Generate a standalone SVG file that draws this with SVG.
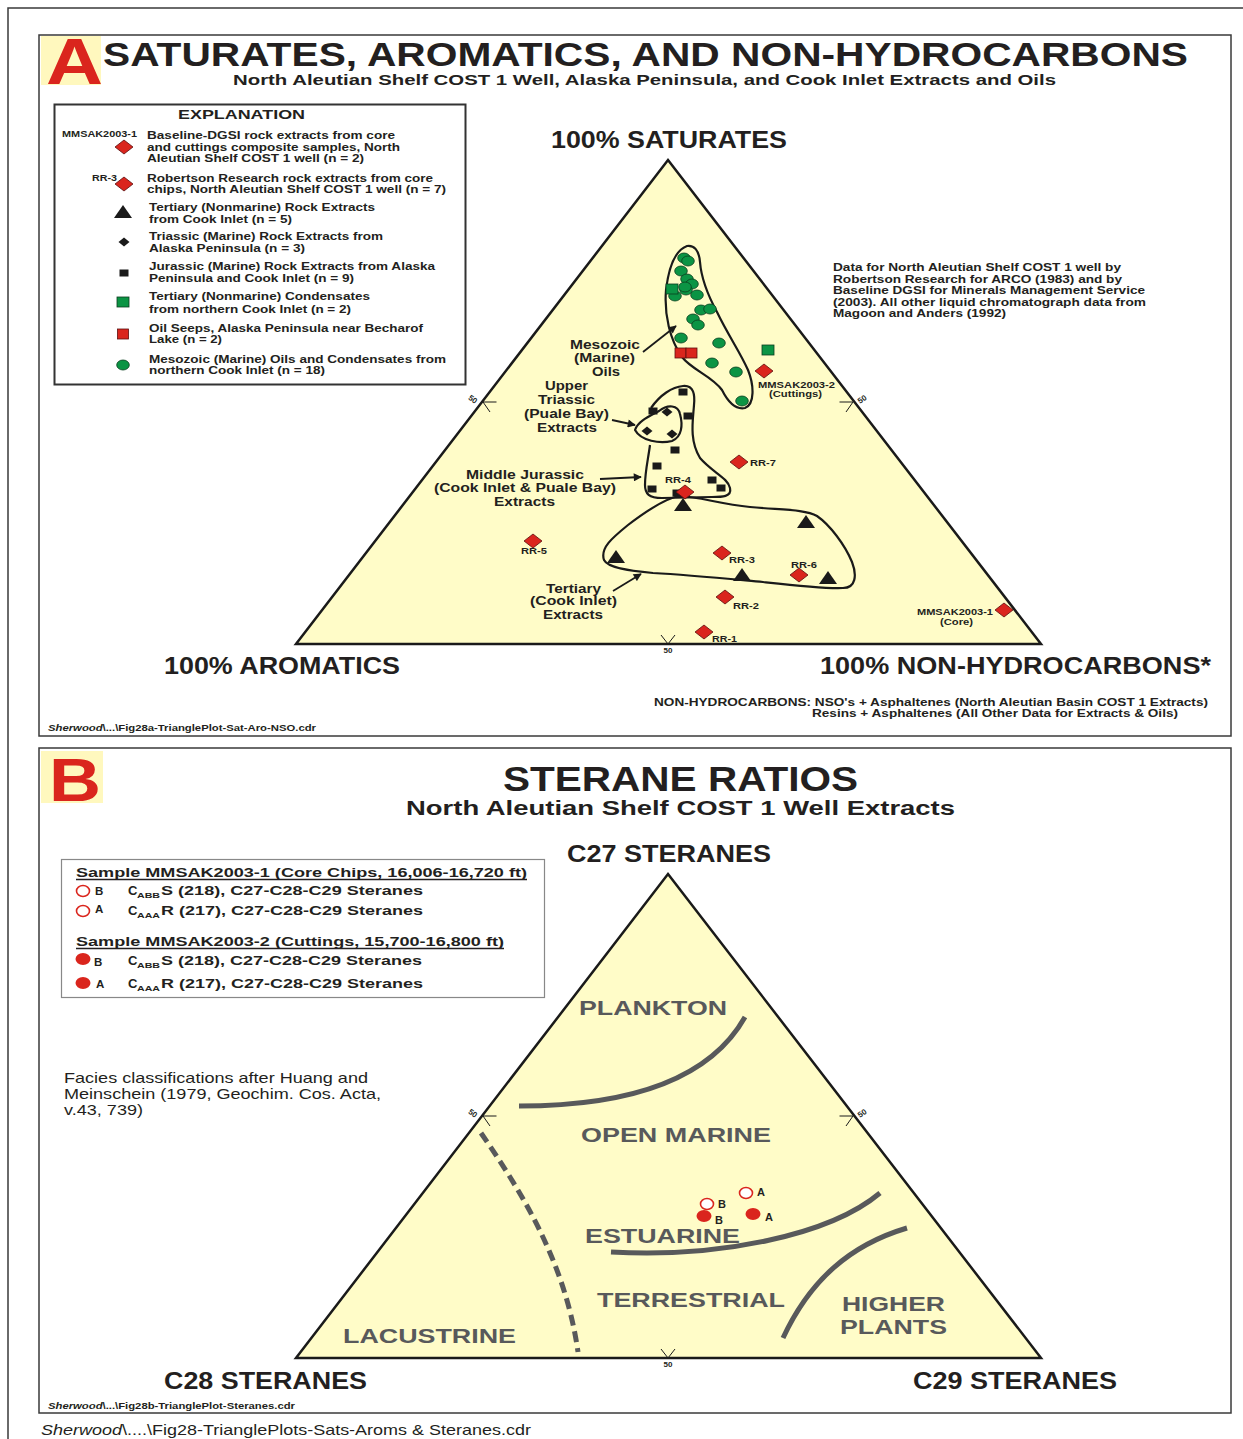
<svg xmlns="http://www.w3.org/2000/svg" width="1243" height="1439" viewBox="0 0 1243 1439">
<defs>
<style>
text{font-family:"Liberation Sans",Arial,Helvetica,sans-serif;font-weight:bold;fill:#231F20}
.panel{fill:#fff;stroke:#3a3a3a;stroke-width:1.5}
.tri{fill:#FFFCC8;stroke:#1a1a1a;stroke-width:2.5}
.tick{fill:none;stroke:#1a1a1a;stroke-width:1}
.outline{fill:none;stroke:#1a1a1a;stroke-width:2.2;stroke-linejoin:round}
.arrow{stroke:#1a1a1a;stroke-width:1.8;marker-end:url(#ah)}
.gcurve{fill:none;stroke:#58595B;stroke-width:5}
.facies{fill:#58595B;font-size:21px}
.lg{font-size:11px}
.sm{font-size:9px}
.lab{font-size:12.5px}
.big{font-size:23px}
.red{fill:#DA251D}
.sub{font-size:6.5px}
</style>
<marker id="ah" viewBox="0 0 10 10" refX="9" refY="5" markerWidth="9" markerHeight="8" markerUnits="userSpaceOnUse" orient="auto">
<path d="M0,0 L10,5 L0,10 Z" fill="#1a1a1a"/>
</marker>
<path id="dia" d="M0,-7 L9,0 L0,7 L-9,0Z" fill="#DA251D" stroke="#5C0F0F" stroke-width="0.8"/>
<path id="trm" d="M0,-7 L9,6 L-9,6Z" fill="#1a1a1a"/>
<rect id="bsq" x="-4.5" y="-3.5" width="9" height="7" fill="#1a1a1a"/>
<path id="bdia" d="M0,-4.5 L5.5,0 L0,4.5 L-5.5,0Z" fill="#1a1a1a"/>
<ellipse id="gc" rx="6.3" ry="5" fill="#0B9444" stroke="#0a3d1e" stroke-width="0.8"/>
<rect id="gsq" x="-6" y="-5" width="12" height="10" fill="#0B9444" stroke="#0a3d1e" stroke-width="0.8"/>
<rect id="rsq" x="-5.5" y="-5" width="11" height="10" fill="#DA251D" stroke="#5C0F0F" stroke-width="0.8"/>
<ellipse id="oc" rx="6.5" ry="5.5" fill="#fff" stroke="#DA251D" stroke-width="1.6"/>
<ellipse id="fc" rx="7.5" ry="6" fill="#DA251D"/>
</defs>

<rect width="1243" height="1439" fill="#fff"/>
<g id="frame">
<path d="M8,1439 L8,8 L1243,8" fill="none" stroke="#3a3a3a" stroke-width="1.5"/>
</g>

<!-- PANEL A -->
<g id="panel-a">
<rect class="panel" x="39" y="35" width="1192" height="701"/>
<rect x="41" y="36" width="60" height="49" fill="#FFF8BE"/>
<text x="46" y="84" font-size="64" class="red" textLength="57" lengthAdjust="spacingAndGlyphs">A</text>
<text x="103" y="66" font-size="33" textLength="1085" lengthAdjust="spacingAndGlyphs">SATURATES, AROMATICS, AND NON-HYDROCARBONS</text>
<text x="233" y="85" font-size="15.5" textLength="823" lengthAdjust="spacingAndGlyphs">North Aleutian Shelf COST 1 Well, Alaska Peninsula, and Cook Inlet Extracts and Oils</text>
</g>

<g id="explanation">
<rect x="54.5" y="104.5" width="411" height="280" fill="#fff" stroke="#333" stroke-width="2"/>
<text x="178" y="119" font-size="13" textLength="127" lengthAdjust="spacingAndGlyphs">EXPLANATION</text>
<text x="62" y="137" class="sm" textLength="75" lengthAdjust="spacingAndGlyphs">MMSAK2003-1</text>
<use href="#dia" x="124" y="147"/>
<text x="147" y="139" class="lg" textLength="248" lengthAdjust="spacingAndGlyphs">Baseline-DGSI rock extracts from core</text>
<text x="147" y="151" class="lg" textLength="253" lengthAdjust="spacingAndGlyphs">and cuttings composite samples, North</text>
<text x="147" y="162" class="lg" textLength="217" lengthAdjust="spacingAndGlyphs">Aleutian Shelf COST 1 well (n = 2)</text>
<text x="92" y="181" class="sm" textLength="25" lengthAdjust="spacingAndGlyphs">RR-3</text>
<use href="#dia" x="124" y="184"/>
<text x="147" y="182" class="lg" textLength="286" lengthAdjust="spacingAndGlyphs">Robertson Research rock extracts from core</text>
<text x="147" y="193" class="lg" textLength="299" lengthAdjust="spacingAndGlyphs">chips, North Aleutian Shelf COST 1 well (n = 7)</text>
<use href="#trm" x="123" y="212"/>
<text x="149" y="211" class="lg" textLength="226" lengthAdjust="spacingAndGlyphs">Tertiary (Nonmarine) Rock Extracts</text>
<text x="149" y="223" class="lg" textLength="143" lengthAdjust="spacingAndGlyphs">from Cook Inlet (n = 5)</text>
<use href="#bdia" x="124" y="242"/>
<text x="149" y="240" class="lg" textLength="234" lengthAdjust="spacingAndGlyphs">Triassic (Marine) Rock Extracts from</text>
<text x="149" y="252" class="lg" textLength="156" lengthAdjust="spacingAndGlyphs">Alaska Peninsula (n = 3)</text>
<use href="#bsq" x="124" y="273"/>
<text x="149" y="270" class="lg" textLength="286" lengthAdjust="spacingAndGlyphs">Jurassic (Marine) Rock Extracts from Alaska</text>
<text x="149" y="282" class="lg" textLength="205" lengthAdjust="spacingAndGlyphs">Peninsula and Cook Inlet (n = 9)</text>
<use href="#gsq" x="123" y="302"/>
<text x="149" y="300" class="lg" textLength="221" lengthAdjust="spacingAndGlyphs">Tertiary (Nonmarine) Condensates</text>
<text x="149" y="313" class="lg" textLength="202" lengthAdjust="spacingAndGlyphs">from northern Cook Inlet (n = 2)</text>
<use href="#rsq" x="123" y="334"/>
<text x="149" y="332" class="lg" textLength="274" lengthAdjust="spacingAndGlyphs">Oil Seeps, Alaska Peninsula near Becharof</text>
<text x="149" y="343" class="lg" textLength="73" lengthAdjust="spacingAndGlyphs">Lake (n = 2)</text>
<use href="#gc" x="123" y="365"/>
<text x="149" y="363" class="lg" textLength="297" lengthAdjust="spacingAndGlyphs">Mesozoic (Marine) Oils and Condensates from</text>
<text x="149" y="374" class="lg" textLength="176" lengthAdjust="spacingAndGlyphs">northern Cook Inlet (n = 18)</text>
</g>

<g id="triangle-a">
<polygon class="tri" points="668,160 1041,644 296,644"/>
<path class="tick" d="M496.5,402 L483,402 L490,412 M839.5,402 L853,402 L846,412 M661,635 L668,644 L675,635"/>
<text x="473" y="402" font-size="8" text-anchor="middle" transform="rotate(35 473 399)">50</text>
<text x="862" y="402" font-size="8" text-anchor="middle" transform="rotate(-35 862 399)">50</text>
<text x="668" y="653" font-size="8" text-anchor="middle">50</text>
<text x="551" y="148" class="big" textLength="236" lengthAdjust="spacingAndGlyphs">100% SATURATES</text>
<text x="164" y="674" class="big" textLength="236" lengthAdjust="spacingAndGlyphs">100% AROMATICS</text>
<text x="820" y="674" class="big" textLength="391" lengthAdjust="spacingAndGlyphs">100% NON-HYDROCARBONS*</text>
</g>

<g id="outlines">
<path class="outline" d="M687,246 C676,250 669,265 666,290 C664,315 670,340 682,357 C692,370 712,376 722,390 C728,402 735,410 745,408 C755,404 754,385 748,370 C740,352 728,335 717,312 C705,290 701,275 700,262 C699,250 694,245 687,246 Z"/>
<path class="outline" d="M651,408 C660,395 672,387 683,386 C694,385 695,395 694,405 C693,420 689,440 700,458 C712,472 728,478 730,488 C732,497 722,497 712,497 L662,498 C649,498 645,494 645,485 C645,472 648,460 650,445"/>
<path class="outline" d="M635,430 C638,421 650,416 659,411 C668,404 678,405 680,414 C683,425 682,437 672,441 C660,444 641,441 635,430 Z"/>
<path class="outline" d="M680,496 C700,497 720,504 750,507 C780,510 805,509 817,516 C830,525 845,545 852,562 C857,575 856,588 843,588 C825,589 790,585 763,582 C730,579 690,575 653,573 C630,571 608,568 604,560 C600,548 612,538 628,525 C645,512 665,498 680,496 Z"/>
</g>

<g id="points-a">
<use href="#gc" x="684" y="258"/><use href="#gc" x="688" y="261"/><use href="#gc" x="681" y="271"/>
<use href="#gc" x="687" y="279"/><use href="#gc" x="692" y="284"/><use href="#gc" x="686" y="290"/>
<use href="#gc" x="685" y="287"/><use href="#gc" x="675" y="296"/><use href="#gc" x="697" y="295"/>
<use href="#gc" x="701" y="310"/><use href="#gc" x="710" y="309"/><use href="#gc" x="693" y="319"/>
<use href="#gc" x="698" y="325"/><use href="#gc" x="681" y="338"/><use href="#gc" x="719" y="343"/>
<use href="#gc" x="712" y="363"/><use href="#gc" x="736" y="372"/><use href="#gc" x="742" y="401"/>
<use href="#gsq" x="672" y="289"/><use href="#gsq" x="768" y="350"/>
<use href="#rsq" x="680.5" y="353"/><use href="#rsq" x="691.5" y="353"/>
<use href="#dia" x="764" y="371"/>
<use href="#bsq" x="683" y="392"/><use href="#bsq" x="653" y="411"/><use href="#bsq" x="688" y="416"/>
<use href="#bsq" x="675" y="450"/><use href="#bsq" x="657" y="466"/><use href="#bsq" x="652" y="489"/>
<use href="#bsq" x="712" y="480"/><use href="#bsq" x="721" y="488"/><use href="#bsq" x="677" y="493"/>
<use href="#bdia" x="667" y="412"/><use href="#bdia" x="647" y="431"/><use href="#bdia" x="672" y="434"/>
<use href="#trm" x="683" y="505"/><use href="#trm" x="616" y="557"/><use href="#trm" x="806" y="522"/>
<use href="#trm" x="742" y="575"/><use href="#trm" x="828" y="578"/>
<use href="#dia" x="685" y="492"/><use href="#dia" x="533" y="541"/><use href="#dia" x="739" y="462"/>
<use href="#dia" x="722" y="553"/><use href="#dia" x="799" y="575"/><use href="#dia" x="725" y="597"/>
<use href="#dia" x="704" y="632"/><use href="#dia" x="1004" y="610"/>
</g>

<g id="labels-a">
<text x="758" y="388" class="sm" textLength="77" lengthAdjust="spacingAndGlyphs">MMSAK2003-2</text>
<text x="769" y="397" class="sm" textLength="53" lengthAdjust="spacingAndGlyphs">(Cuttings)</text>
<text x="665" y="483" class="sm" textLength="26" lengthAdjust="spacingAndGlyphs">RR-4</text>
<text x="521" y="554" class="sm" textLength="26" lengthAdjust="spacingAndGlyphs">RR-5</text>
<text x="750" y="466" class="sm" textLength="26" lengthAdjust="spacingAndGlyphs">RR-7</text>
<text x="729" y="563" class="sm" textLength="26" lengthAdjust="spacingAndGlyphs">RR-3</text>
<text x="791" y="568" class="sm" textLength="26" lengthAdjust="spacingAndGlyphs">RR-6</text>
<text x="733" y="609" class="sm" textLength="26" lengthAdjust="spacingAndGlyphs">RR-2</text>
<text x="712" y="642" class="sm" textLength="25" lengthAdjust="spacingAndGlyphs">RR-1</text>
<text x="917" y="615" class="sm" textLength="76" lengthAdjust="spacingAndGlyphs">MMSAK2003-1</text>
<text x="940" y="625" class="sm" textLength="33" lengthAdjust="spacingAndGlyphs">(Core)</text>

<text x="570" y="349" class="lab" textLength="70" lengthAdjust="spacingAndGlyphs">Mesozoic</text>
<text x="574" y="362" class="lab" textLength="61" lengthAdjust="spacingAndGlyphs">(Marine)</text>
<text x="592" y="376" class="lab" textLength="28" lengthAdjust="spacingAndGlyphs">Oils</text>
<text x="545" y="390" class="lab" textLength="43" lengthAdjust="spacingAndGlyphs">Upper</text>
<text x="538" y="404" class="lab" textLength="57" lengthAdjust="spacingAndGlyphs">Triassic</text>
<text x="524" y="418" class="lab" textLength="85" lengthAdjust="spacingAndGlyphs">(Puale Bay)</text>
<text x="537" y="432" class="lab" textLength="60" lengthAdjust="spacingAndGlyphs">Extracts</text>
<text x="466" y="479" class="lab" textLength="118" lengthAdjust="spacingAndGlyphs">Middle Jurassic</text>
<text x="434" y="492" class="lab" textLength="182" lengthAdjust="spacingAndGlyphs">(Cook Inlet &amp; Puale Bay)</text>
<text x="494" y="506" class="lab" textLength="61" lengthAdjust="spacingAndGlyphs">Extracts</text>
<text x="546" y="593" class="lab" textLength="55" lengthAdjust="spacingAndGlyphs">Tertiary</text>
<text x="530" y="605" class="lab" textLength="87" lengthAdjust="spacingAndGlyphs">(Cook Inlet)</text>
<text x="543" y="619" class="lab" textLength="60" lengthAdjust="spacingAndGlyphs">Extracts</text>
</g>

<g id="connectors">
<line class="arrow" x1="643" y1="352" x2="676" y2="326"/>
<line class="arrow" x1="612" y1="420" x2="635" y2="425"/>
<line class="arrow" x1="600" y1="479" x2="641" y2="477"/>
<line class="arrow" x1="613" y1="591" x2="641" y2="574"/>
</g>

<g id="notes-a">
<text x="833" y="271" class="lg" textLength="288" lengthAdjust="spacingAndGlyphs">Data for North Aleutian Shelf COST 1 well by</text>
<text x="833" y="283" class="lg" textLength="289" lengthAdjust="spacingAndGlyphs">Robertson Research for ARCO (1983) and by</text>
<text x="833" y="294" class="lg" textLength="312" lengthAdjust="spacingAndGlyphs">Baseline DGSI for Minerals Management Service</text>
<text x="833" y="306" class="lg" textLength="313" lengthAdjust="spacingAndGlyphs">(2003).  All other liquid chromatograph data from</text>
<text x="833" y="317" class="lg" textLength="173" lengthAdjust="spacingAndGlyphs">Magoon and Anders (1992)</text>
<text x="654" y="706" class="lg" textLength="554" lengthAdjust="spacingAndGlyphs">NON-HYDROCARBONS: NSO's + Asphaltenes (North Aleutian Basin COST 1 Extracts)</text>
<text x="812" y="717" class="lg" textLength="366" lengthAdjust="spacingAndGlyphs">Resins + Asphaltenes (All Other Data for Extracts &amp; Oils)</text>
<text x="48" y="731" font-size="8.5" textLength="268" lengthAdjust="spacingAndGlyphs"><tspan font-style="italic">Sherwood</tspan>\...\Fig28a-TrianglePlot-Sat-Aro-NSO.cdr</text>
</g>

<!-- PANEL B -->
<g id="panel-b">
<rect class="panel" x="39" y="748" width="1192" height="665"/>
<rect x="41" y="751" width="62" height="52" fill="#FFF8BE"/>
<text x="49" y="801" font-size="61" class="red" textLength="52" lengthAdjust="spacingAndGlyphs">B</text>
<text x="503" y="791" font-size="35" textLength="355" lengthAdjust="spacingAndGlyphs">STERANE RATIOS</text>
<text x="406" y="815" font-size="20" textLength="549" lengthAdjust="spacingAndGlyphs">North Aleutian Shelf COST 1 Well  Extracts</text>
</g>

<g id="legend-b">
<rect x="61.5" y="859.5" width="483" height="138" fill="#fff" stroke="#888" stroke-width="1.2"/>
<text x="76" y="877" font-size="13" textLength="451" lengthAdjust="spacingAndGlyphs">Sample MMSAK2003-1 (Core Chips, 16,006-16,720 ft)</text>
<line x1="76" y1="879.5" x2="527" y2="879.5" stroke="#231F20" stroke-width="1.3"/>
<use href="#oc" x="83" y="891"/>
<text x="95" y="895" font-size="11.5">B</text>
<text x="128" y="895" font-size="13">C</text>
<text x="137" y="898" class="sub" textLength="23" lengthAdjust="spacingAndGlyphs">ABB</text>
<text x="161" y="895" font-size="13" textLength="262" lengthAdjust="spacingAndGlyphs">S (218), C27-C28-C29 Steranes</text>
<use href="#oc" x="83" y="911"/>
<text x="95" y="913" font-size="11.5">A</text>
<text x="128" y="915" font-size="13">C</text>
<text x="137" y="918" class="sub" textLength="23" lengthAdjust="spacingAndGlyphs">AAA</text>
<text x="161" y="915" font-size="13" textLength="262" lengthAdjust="spacingAndGlyphs">R (217), C27-C28-C29 Steranes</text>
<text x="76" y="946" font-size="13" textLength="428" lengthAdjust="spacingAndGlyphs">Sample MMSAK2003-2 (Cuttings, 15,700-16,800 ft)</text>
<line x1="76" y1="948.5" x2="504" y2="948.5" stroke="#231F20" stroke-width="1.3"/>
<use href="#fc" x="83" y="959"/>
<text x="94" y="966" font-size="11.5">B</text>
<text x="128" y="965" font-size="13">C</text>
<text x="137" y="968" class="sub" textLength="23" lengthAdjust="spacingAndGlyphs">ABB</text>
<text x="161" y="965" font-size="13" textLength="261" lengthAdjust="spacingAndGlyphs">S (218), C27-C28-C29 Steranes</text>
<use href="#fc" x="83" y="983"/>
<text x="96" y="988" font-size="11.5">A</text>
<text x="128" y="988" font-size="13">C</text>
<text x="137" y="991" class="sub" textLength="23" lengthAdjust="spacingAndGlyphs">AAA</text>
<text x="161" y="988" font-size="13" textLength="262" lengthAdjust="spacingAndGlyphs">R (217), C27-C28-C29 Steranes</text>
</g>

<g id="facies-note">
<text x="64" y="1083" font-size="14.5" style="font-weight:normal" textLength="304" lengthAdjust="spacingAndGlyphs">Facies classifications after Huang and</text>
<text x="64" y="1099" font-size="14.5" style="font-weight:normal" textLength="317" lengthAdjust="spacingAndGlyphs">Meinschein (1979, Geochim. Cos. Acta,</text>
<text x="64" y="1115" font-size="14.5" style="font-weight:normal" textLength="79" lengthAdjust="spacingAndGlyphs">v.43, 739)</text>
</g>

<g id="triangle-b">
<polygon class="tri" points="668,874 1041,1358 296,1358"/>
<path class="tick" d="M496.5,1116 L483,1116 L490,1126 M839.5,1116 L853,1116 L846,1126 M661,1349 L668,1358 L675,1349"/>
<text x="473" y="1116" font-size="8" text-anchor="middle" transform="rotate(35 473 1113)">50</text>
<text x="862" y="1116" font-size="8" text-anchor="middle" transform="rotate(-35 862 1113)">50</text>
<text x="668" y="1367" font-size="8" text-anchor="middle">50</text>
<text x="567" y="862" class="big" font-size="22" textLength="204" lengthAdjust="spacingAndGlyphs">C27 STERANES</text>
<text x="164" y="1389" class="big" font-size="22" textLength="203" lengthAdjust="spacingAndGlyphs">C28 STERANES</text>
<text x="913" y="1389" class="big" font-size="22" textLength="204" lengthAdjust="spacingAndGlyphs">C29 STERANES</text>
</g>

<g id="facies-curves">
<path class="gcurve" d="M519,1106 C610,1106 705,1088 745,1017"/>
<path class="gcurve" d="M611,1252 C720,1258 830,1235 880,1193"/>
<path class="gcurve" d="M783,1338 C810,1280 850,1245 907,1228"/>
<path class="gcurve" stroke-dasharray="11,6" d="M481,1133 C520,1190 565,1260 578,1352"/>
</g>

<g id="facies-labels">
<text x="579" y="1015" class="facies" textLength="148" lengthAdjust="spacingAndGlyphs">PLANKTON</text>
<text x="581" y="1142" class="facies" textLength="190" lengthAdjust="spacingAndGlyphs">OPEN MARINE</text>
<text x="585" y="1243" class="facies" textLength="155" lengthAdjust="spacingAndGlyphs">ESTUARINE</text>
<text x="597" y="1307" class="facies" textLength="188" lengthAdjust="spacingAndGlyphs">TERRESTRIAL</text>
<text x="343" y="1343" class="facies" textLength="173" lengthAdjust="spacingAndGlyphs">LACUSTRINE</text>
<text x="842" y="1311" class="facies" textLength="103" lengthAdjust="spacingAndGlyphs">HIGHER</text>
<text x="840" y="1334" class="facies" textLength="107" lengthAdjust="spacingAndGlyphs">PLANTS</text>
</g>

<g id="points-b">
<use href="#oc" x="746" y="1193"/>
<text x="757" y="1196" font-size="11">A</text>
<use href="#oc" x="707" y="1204"/>
<text x="718" y="1208" font-size="11">B</text>
<use href="#fc" x="704" y="1216"/>
<text x="715" y="1224" font-size="11">B</text>
<use href="#fc" x="753" y="1214"/>
<text x="765" y="1221" font-size="11">A</text>
</g>

<g id="footers">
<text x="48" y="1409" font-size="8.5" textLength="247" lengthAdjust="spacingAndGlyphs"><tspan font-style="italic">Sherwood</tspan>\...\Fig28b-TrianglePlot-Steranes.cdr</text>
<text x="41" y="1435" font-size="15" style="font-weight:normal" textLength="490" lengthAdjust="spacingAndGlyphs"><tspan font-style="italic">Sherwood</tspan>\....\Fig28-TrianglePlots-Sats-Aroms &amp; Steranes.cdr</text>
</g>
</svg>
